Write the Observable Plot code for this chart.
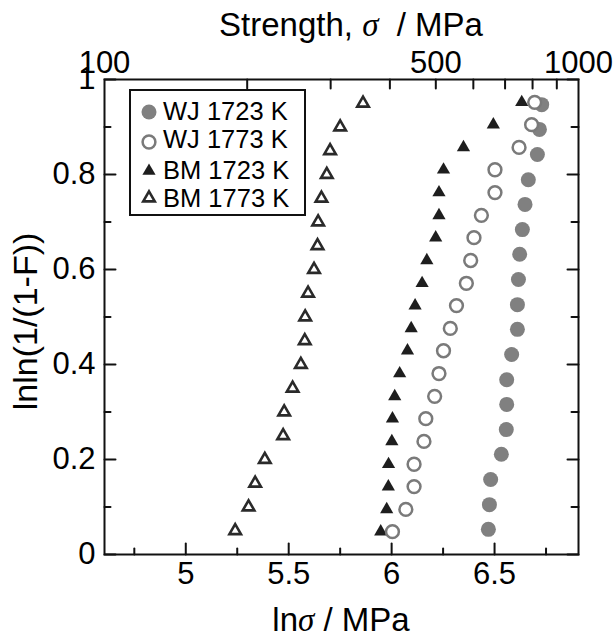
<!DOCTYPE html>
<html><head><meta charset="utf-8">
<script src="https://cdn.jsdelivr.net/npm/d3@7"></script>
<script src="https://cdn.jsdelivr.net/npm/@observablehq/plot@0.6"></script>
<style>
body{margin:0;background:#fff;}
#chart{position:relative;width:616px;height:640px;}
</style></head><body><div id="chart"></div>
<script>
// ---- data (x = ln σ, y = lnln(1/(1-F))) ----
const wj1723X = [6.470,6.475,6.481,6.533,6.557,6.559,6.559,6.583,6.611,6.611,6.616,6.622,6.635,6.648,6.664,6.708,6.718,6.729];
const wj1723Y = [0.053,0.105,0.158,0.211,0.263,0.316,0.368,0.421,0.474,0.526,0.579,0.632,0.684,0.737,0.789,0.842,0.895,0.947];
const wj1773X = [6.004,6.069,6.109,6.109,6.157,6.166,6.209,6.230,6.252,6.285,6.315,6.363,6.384,6.400,6.436,6.502,6.502,6.619,6.680,6.695];
const wj1773Y = [0.048,0.095,0.143,0.190,0.238,0.286,0.333,0.381,0.429,0.476,0.524,0.571,0.619,0.667,0.714,0.762,0.810,0.857,0.905,0.952];
const bm1723X = [5.947,5.976,5.984,5.985,6.001,6.004,6.015,6.039,6.077,6.095,6.114,6.148,6.171,6.214,6.230,6.230,6.252,6.349,6.494,6.632];
const bm1723Y = [0.048,0.095,0.143,0.190,0.238,0.286,0.333,0.381,0.429,0.476,0.524,0.571,0.619,0.667,0.714,0.762,0.810,0.857,0.905,0.952];
const bm1773X = [5.240,5.305,5.337,5.384,5.473,5.478,5.519,5.559,5.578,5.580,5.594,5.623,5.640,5.643,5.659,5.685,5.701,5.750,5.861];
const bm1773Y = [0.05,0.10,0.15,0.20,0.25,0.30,0.35,0.40,0.45,0.50,0.55,0.60,0.65,0.70,0.75,0.80,0.85,0.90,0.95];

const seriesNames = ["WJ 1723 K","WJ 1773 K","BM 1723 K","BM 1773 K"];

// ---- ticks ----
const bottomLabels = [5, 5.5, 6, 6.5];
const bottomMinor = [4.75, 5.25, 5.75, 6.25, 6.75];
const yLabels = [0, 0.2, 0.4, 0.6, 0.8, 1];
const yMinor = [0.1, 0.3, 0.5, 0.7, 0.9];
const topTicks = [200, 300, 400, 500, 600, 700, 800, 900];
const topLabels = [100, 500, 1000];
const xDomainMPa = [100, 1000];

const pts = (xs, ys) => xs.map((x, i) => ({x, y: ys[i]}));
const dWJ1723 = pts(wj1723X, wj1723Y);
const dWJ1773 = pts(wj1773X, wj1773Y);
const dBM1723 = pts(bm1723X, bm1723Y);
const dBM1773 = pts(bm1773X, bm1773Y);

const FONT = "'Liberation Sans', Arial, Helvetica, sans-serif";
const GREY = "#808080";
const DARK = "#1e1e1e";
const ML = 104, MR = 38, MT = 79, MB = 86, W = 616, H = 640;

const fmtY = d => d === 0 ? "0" : d === 1 ? "1" : String(d);
// inward tick: a plain line drawn by Plot's vector mark
const tickLine = {draw(c, l) { c.moveTo(0, 0); c.lineTo(0, -l); }};
const tk = {shape: tickLine, anchor: "start", stroke: "#111", strokeWidth: 2};

const plot = Plot.plot({
  width: W, height: H,
  marginLeft: ML, marginRight: MR, marginTop: MT, marginBottom: MB,
  style: {fontFamily: FONT, fontSize: "31px", color: "#000", background: "#fff", overflow: "visible"},
  x: {domain: xDomainMPa.map(Math.log), axis: null, label: null},
  y: {domain: [0, 1], axis: null, label: null},
  marks: [
    // tick labels
    Plot.axisX(bottomLabels, {anchor: "bottom", tickSize: 0, tickPadding: 7, tickFormat: d => String(d), label: null, fontSize: 31}),
    Plot.axisX(topLabels.map(Math.log), {anchor: "top", tickSize: 0, tickPadding: 7, tickFormat: d => String(Math.round(Math.exp(d))), label: null, fontSize: 31}),
    Plot.axisY(yLabels, {anchor: "left", tickSize: 0, tickPadding: 9, tickFormat: fmtY, label: null, fontSize: 31}),
    // inward ticks
    Plot.vectorX(bottomLabels, {...tk, x: d => d, frameAnchor: "bottom", rotate: 0, length: 11}),
    Plot.vectorX(bottomMinor, {...tk, x: d => d, frameAnchor: "bottom", rotate: 0, length: 6}),
    Plot.vectorX(topTicks.map(Math.log), {...tk, x: d => d, frameAnchor: "top", rotate: 180, length: 9}),
    Plot.vectorY(yLabels, {...tk, y: d => d, frameAnchor: "left", rotate: 90, length: 11}),
    Plot.vectorY(yMinor, {...tk, y: d => d, frameAnchor: "left", rotate: 90, length: 6}),
    Plot.vectorY(yLabels, {...tk, y: d => d, frameAnchor: "right", rotate: 270, length: 11}),
    Plot.vectorY(yMinor, {...tk, y: d => d, frameAnchor: "right", rotate: 270, length: 7}),
    // data
    Plot.dot(dBM1773, {x: "x", y: "y", symbol: "triangle", r: 4.3, fill: "#fff", stroke: "#2a2a2a", strokeWidth: 2.6}),
    Plot.dot(dBM1723, {x: "x", y: "y", symbol: "triangle", r: 4.9, fill: DARK, stroke: "none"}),
    Plot.dot(dWJ1723, {x: "x", y: "y", symbol: "circle", r: 7.5, fill: GREY, stroke: "none"}),
    Plot.dot(dWJ1773, {x: "x", y: "y", symbol: "circle", r: 6.4, fill: "#fff", stroke: "#7a7a7a", strokeWidth: 2.5}),
    Plot.frame({stroke: "#111", strokeWidth: 2})
  ]
});

document.getElementById("chart").appendChild(plot);

// ---- titles & legend (decoration added to the SVG) ----
const svg = d3.select(plot);
const SERIF = "'Liberation Serif', 'DejaVu Serif', serif";
const plotCx = ML + (W - ML - MR) / 2;
const plotCy = MT + (H - MT - MB) / 2;

function titled(sel, pre, post) {
  sel.append("tspan").text(pre);
  sel.append("tspan").attr("font-family", SERIF).attr("font-style", "italic").text("σ");
  sel.append("tspan").text(post);
}
const t1 = svg.append("text").attr("x", plotCx + 10).attr("y", 36).attr("text-anchor", "middle")
  .attr("font-size", 33).attr("font-family", FONT).attr("fill", "#000");
titled(t1, "Strength, ", "  / MPa");
const t2 = svg.append("text").attr("x", plotCx).attr("y", 631).attr("text-anchor", "middle")
  .attr("font-size", 33).attr("font-family", FONT).attr("fill", "#000");
titled(t2, "ln", " / MPa");
svg.append("text").attr("transform", `translate(37,${plotCy + 5}) rotate(-90)`).attr("text-anchor", "middle")
  .attr("font-size", 34).attr("font-family", FONT).attr("fill", "#000").text("lnln(1/(1-F))");

// legend
const lg = svg.append("g").attr("transform", `translate(${ML + 26},${MT + 11})`);
lg.append("rect").attr("x", 0).attr("y", 0).attr("width", 175).attr("height", 125)
  .attr("fill", "#fff").attr("stroke", "#111").attr("stroke-width", 2);
const rowsY = [22, 52, 81, 108];
const textY = [30, 58, 89, 117];
const tri = r => d3.symbol(d3.symbolTriangle, Math.PI * r * r)();
const mk = [
  g => g.append("circle").attr("r", 7.5).attr("fill", GREY),
  g => g.append("circle").attr("r", 6.4).attr("fill", "#fff").attr("stroke", "#7a7a7a").attr("stroke-width", 2.5),
  g => g.append("path").attr("d", tri(4.9)).attr("fill", DARK),
  g => g.append("path").attr("d", tri(4.3)).attr("fill", "#fff").attr("stroke", "#2a2a2a").attr("stroke-width", 2.6)
];
seriesNames.forEach((name, i) => {
  const g = lg.append("g").attr("transform", `translate(19,${rowsY[i]})`);
  mk[i](g);
  lg.append("text").attr("x", 33).attr("y", textY[i]).attr("font-size", 25.5).attr("text-anchor", "start")
    .attr("font-family", FONT).attr("fill", "#000").text(name);
});
</script></body></html>
